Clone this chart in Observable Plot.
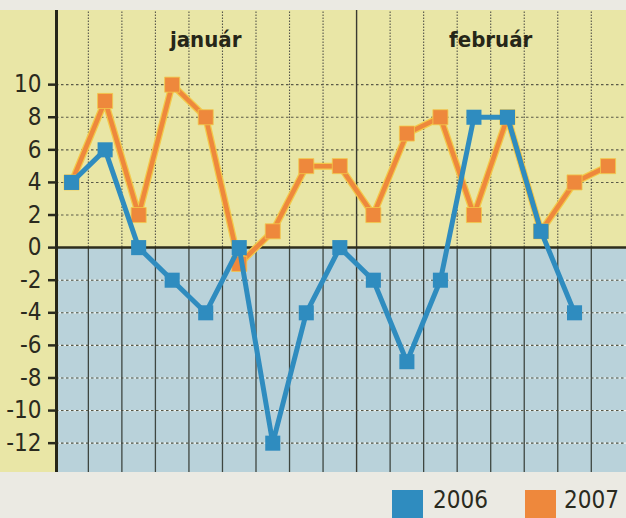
<!DOCTYPE html>
<html><head><meta charset="utf-8">
<script src="https://cdn.jsdelivr.net/npm/d3@7"></script>
<script src="https://cdn.jsdelivr.net/npm/@observablehq/plot@0.6"></script>
<style>
body{margin:0;background:#ebeae3;width:626px;height:518px;overflow:hidden;font-family:"Liberation Sans Narrow","DejaVu Sans Condensed",sans-serif;}
#chart svg{display:block;background:linear-gradient(#ebeae3 0 10px,#e9e6a6 10px);}
#legend{position:relative;height:46px;}
.sw{position:absolute;top:18px;width:31px;height:28px;}
.lt{position:absolute;top:14px;font-size:24px;color:#2a2a1e;line-height:28px;}
</style></head>
<body>
<div id="chart"></div>
<div id="legend"></div>
<script>
const days = [0,1,2,3,4,5,6,7,8,9,10,11,12,13,14,15,16];
const values2006 = [4,6,0,-2,-4,0,-12,-4,0,-2,-7,-2,8,8,1,-4,null];
const values2007 = [4,9,2,10,8,-1,1,5,5,2,7,8,2,8,1,4,5];
const months = ["január","február"];
const monthCenters = [4,12.5];
const monthSeparator = [8.5];
const dayBoundaries = [0.5,1.5,2.5,3.5,4.5,5.5,6.5,7.5,9.5,10.5,11.5,12.5,13.5,14.5,15.5];
const yTicks = [-12,-10,-8,-6,-4,-2,0,2,4,6,8,10];
const seriesNames = ["2006","2007"];
const seriesColors = ["#2f8cbf","#ee883c"];

const xDomain = [-0.45,16.55];
const yDomain = [-13.8,14.55];

const rows = [];
days.forEach((d,i)=>{
  rows.push({day:d, value:values2006[i], series:"2006"});
  rows.push({day:d, value:values2007[i], series:"2007"});
});
const r06 = rows.filter(r=>r.series==="2006");
const r07 = rows.filter(r=>r.series==="2007");

const chart = Plot.plot({
  width:626, height:472,
  marginLeft:56, marginRight:0, marginTop:10, marginBottom:0,
  x:{domain:xDomain, axis:null, label:null},
  y:{domain:yDomain, axis:null, label:null},
  style:{fontFamily:'"Liberation Sans Narrow","DejaVu Sans Condensed",sans-serif', color:"#2a2a1e", overflow:"visible"},
  marks:[
    Plot.rect([0],{x1:xDomain[0], x2:xDomain[1], y1:yDomain[0], y2:0, fill:"#b9d2da"}),
    // horizontal dotted grid
    Plot.ruleY(yTicks.filter(d=>d<0),{stroke:"#f4f6f2", strokeWidth:1.2, strokeDasharray:"2.5,2.5", strokeDashoffset:2.5}),
    Plot.ruleY(yTicks.filter(d=>d!==0),{stroke:"#5a5a48", strokeWidth:1.1, strokeDasharray:"2.5,2.5"}),
    // vertical grid
    Plot.ruleX(dayBoundaries,{y1:0, y2:yDomain[1], stroke:"#55554a", strokeWidth:1.1, strokeDasharray:"1.5,1.5"}),
    Plot.ruleX(dayBoundaries,{y1:yDomain[0], y2:0, stroke:"#3e4640", strokeWidth:1.3}),
    Plot.ruleX(monthSeparator,{stroke:"#3a3a30", strokeWidth:1.4}),
    // zero line and axis
    Plot.ruleY([0],{stroke:"#2e2e1c", strokeWidth:2.5}),
    Plot.ruleX([xDomain[0]],{stroke:"#262618", strokeWidth:3}),
    Plot.axisY(yTicks,{anchor:"left", label:null, tickSize:8, tickPadding:7, fontSize:24, strokeWidth:2.5, tickFormat:d=>String(d), fill:"#2a2a1e"}),
    // month labels
    Plot.text(months,{x:(d,i)=>monthCenters[i], y:12.75, text:d=>d, fontSize:22, fontWeight:"bold", fill:"#262618"}),
    // 2007 series (with slight yellow halo)
    Plot.line(r07,{x:"day", y:"value", stroke:"#f3c94a", strokeWidth:7}),
    Plot.line(r07,{x:"day", y:"value", stroke:seriesColors[1], strokeWidth:4.5}),
    Plot.dot(r07,{x:"day", y:"value", symbol:"square", r:8.5, fill:seriesColors[1], stroke:"#f3c94a", strokeWidth:0.8}),
    // 2006 series
    Plot.line(r06,{x:"day", y:"value", stroke:seriesColors[0], strokeWidth:5}),
    Plot.dot(r06,{x:"day", y:"value", symbol:"square", r:8.5, fill:seriesColors[0]})
  ]
});
document.getElementById("chart").append(chart);

const legend = document.getElementById("legend");
const swX = [392,525], txX = [433,564];
seriesNames.forEach((n,i)=>{
  const s=document.createElement("div"); s.className="sw"; s.style.left=swX[i]+"px"; s.style.background=seriesColors[i]; legend.append(s);
  const t=document.createElement("div"); t.className="lt"; t.style.left=txX[i]+"px"; t.textContent=n; legend.append(t);
});
</script>
</body></html>
